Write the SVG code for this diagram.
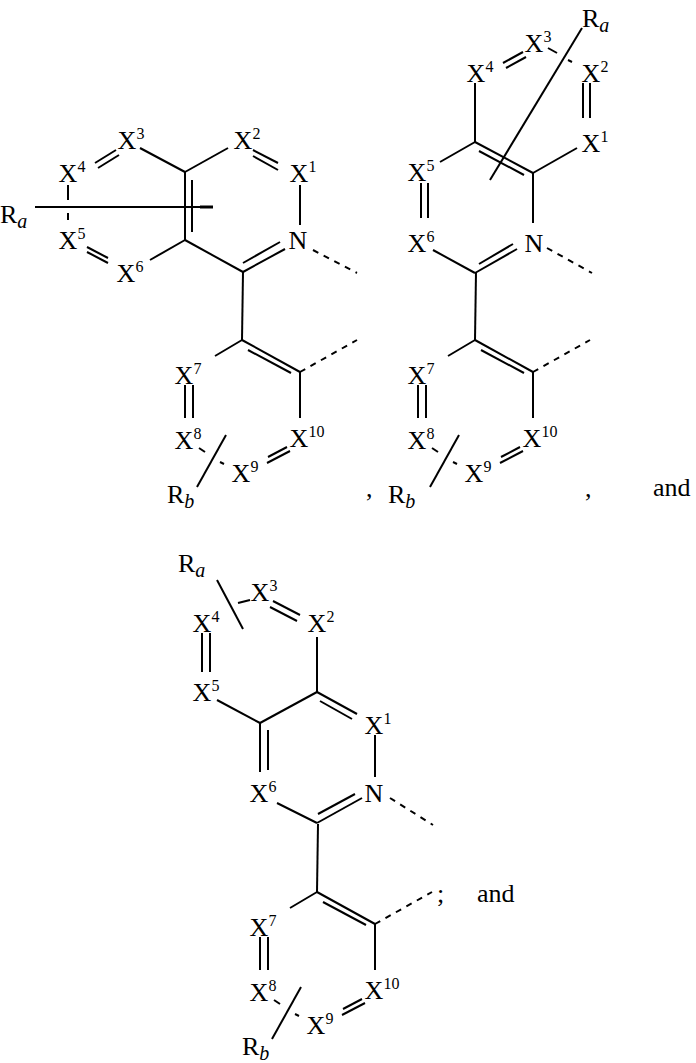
<svg xmlns="http://www.w3.org/2000/svg" width="696" height="1063" viewBox="0 0 696 1063" font-family="'Liberation Serif', 'Times New Roman', serif" font-size="26">
<style>
line{stroke:#000;stroke-width:2;fill:none}
.d{stroke-dasharray:6 6}
</style>
<rect width="696" height="1063" fill="#fff"/>
<defs>
<g id="lowerBonds">
<line x1="243" y1="272" x2="242" y2="340"/>
<line x1="242" y1="340" x2="300" y2="372"/>
<line x1="248" y1="350" x2="291" y2="373"/>
<line x1="242" y1="340" x2="215" y2="356"/>
<line x1="185" y1="385" x2="185" y2="418"/>
<line x1="193" y1="385" x2="193" y2="418"/>
<line x1="300" y1="372" x2="300" y2="418"/>
<line x1="267" y1="463" x2="290" y2="451"/>
<line x1="268" y1="457" x2="287" y2="447"/>
<line x1="199" y1="448" x2="205" y2="452"/>
<line x1="220" y1="462" x2="224" y2="464"/>
<line x1="226" y1="435" x2="197" y2="487"/>
<line class="d" x1="300" y1="372" x2="357" y2="340"/>
</g>
<g id="lowerLabels" font-family="'Liberation Serif', 'Times New Roman', serif" font-size="26">
<text x="174.6" y="383.5">X<tspan font-size="16" dy="-10">7</tspan></text>
<text x="174.6" y="448.5">X<tspan font-size="16" dy="-10">8</tspan></text>
<text x="289.6" y="446.5">X<tspan font-size="16" dy="-10">10</tspan></text>
<text x="231.6" y="481.5">X<tspan font-size="16" dy="-10">9</tspan></text>
</g>
</defs>
<g id="connectors">
<line x1="95" y1="163" x2="116" y2="150"/>
<line x1="98" y1="168" x2="119" y2="155"/>
<line x1="140" y1="148" x2="185" y2="172"/>
<line x1="185" y1="172" x2="228" y2="148"/>
<line x1="253" y1="150" x2="278" y2="163"/>
<line x1="253" y1="156" x2="278" y2="170"/>
<line x1="300" y1="185" x2="300" y2="225"/>
<line x1="243" y1="272" x2="285" y2="249"/>
<line x1="243" y1="263" x2="280" y2="242"/>
<line x1="243" y1="272" x2="185" y2="240"/>
<line x1="185" y1="240" x2="185" y2="172"/>
<line x1="192" y1="232" x2="192" y2="180"/>
<line x1="185" y1="240" x2="150" y2="260"/>
<line x1="87" y1="247" x2="108" y2="258"/>
<line x1="87" y1="252" x2="108" y2="263"/>
<line x1="68" y1="185" x2="68" y2="200"/>
<line x1="68" y1="213" x2="68" y2="220"/>
<line x1="35" y1="207" x2="213" y2="207"/>
<line x1="200" y1="207" x2="213" y2="207" style="stroke-width:3"/>
<line class="d" x1="313" y1="250" x2="357" y2="273"/>
<use href="#lowerBonds"/>
<line x1="475" y1="83" x2="475" y2="142"/>
<line x1="503" y1="63" x2="523" y2="52"/>
<line x1="506" y1="68" x2="526" y2="57"/>
<line x1="548" y1="48" x2="557" y2="53"/>
<line x1="568" y1="60" x2="572" y2="62"/>
<line x1="583" y1="83" x2="583" y2="118"/>
<line x1="590" y1="83" x2="590" y2="118"/>
<line x1="577" y1="148" x2="533" y2="173"/>
<line x1="475" y1="142" x2="533" y2="173"/>
<line x1="479" y1="151" x2="524" y2="175"/>
<line x1="533" y1="173" x2="533" y2="223"/>
<line x1="475" y1="142" x2="440" y2="162"/>
<line x1="421" y1="183" x2="421" y2="218"/>
<line x1="428" y1="183" x2="428" y2="218"/>
<line x1="433" y1="250" x2="475" y2="273"/>
<line x1="475" y1="273" x2="517" y2="249"/>
<line x1="479" y1="264" x2="513" y2="244"/>
<line class="d" x1="547" y1="248" x2="592" y2="273"/>
<line x1="582" y1="28" x2="490" y2="180"/>
<use href="#lowerBonds" transform="translate(233,0)"/>
<line x1="217" y1="580" x2="243" y2="629"/>
<line x1="238" y1="603" x2="250" y2="600"/>
<line x1="273" y1="601" x2="300" y2="615"/>
<line x1="270" y1="607" x2="297" y2="621"/>
<line x1="317" y1="637" x2="317" y2="692"/>
<line x1="202" y1="633" x2="202" y2="672"/>
<line x1="210" y1="633" x2="210" y2="672"/>
<line x1="217" y1="700" x2="260" y2="723"/>
<line x1="260" y1="723" x2="317" y2="692"/>
<line x1="317" y1="692" x2="357" y2="714"/>
<line x1="320" y1="701" x2="352" y2="719"/>
<line x1="375" y1="735" x2="375" y2="777"/>
<line x1="260" y1="723" x2="260" y2="772"/>
<line x1="268" y1="730" x2="268" y2="770"/>
<line x1="277" y1="803" x2="317" y2="823"/>
<line x1="317" y1="823" x2="362" y2="798"/>
<line x1="318" y1="814" x2="355" y2="794"/>
<line class="d" x1="390" y1="798" x2="433" y2="825"/>
<use href="#lowerBonds" transform="translate(75,552)"/>
</g>
<g id="structure1">
<text x="117.6" y="148.5">X<tspan font-size="16" dy="-10">3</tspan></text>
<text x="233.6" y="148.5">X<tspan font-size="16" dy="-10">2</tspan></text>
<text x="58.6" y="181.5">X<tspan font-size="16" dy="-10">4</tspan></text>
<text x="289.6" y="181.5">X<tspan font-size="16" dy="-10">1</tspan></text>
<text x="58.6" y="248.5">X<tspan font-size="16" dy="-10">5</tspan></text>
<text x="116.6" y="281.5">X<tspan font-size="16" dy="-10">6</tspan></text>
<text x="288.6" y="248.5">N</text>
<text x="0" y="223">R<tspan font-size="20" font-style="italic" dy="5">a</tspan></text>
<use href="#lowerLabels"/>
<text x="167" y="503">R<tspan font-size="20" font-style="italic" dy="5">b</tspan></text>
<text x="366" y="497">,</text>
</g>
<g id="structure2">
<text x="582" y="27">R<tspan font-size="20" font-style="italic" dy="5">a</tspan></text>
<text x="524.6" y="51.5">X<tspan font-size="16" dy="-10">3</tspan></text>
<text x="466.6" y="81.5">X<tspan font-size="16" dy="-10">4</tspan></text>
<text x="581.6" y="81.5">X<tspan font-size="16" dy="-10">2</tspan></text>
<text x="581.6" y="151.5">X<tspan font-size="16" dy="-10">1</tspan></text>
<text x="407.6" y="180.5">X<tspan font-size="16" dy="-10">5</tspan></text>
<text x="407.6" y="251.5">X<tspan font-size="16" dy="-10">6</tspan></text>
<text x="524.6" y="251.5">N</text>
<use href="#lowerLabels" transform="translate(233,0)"/>
<text x="388" y="503">R<tspan font-size="20" font-style="italic" dy="5">b</tspan></text>
<text x="585" y="497">,</text>
<text x="653" y="496">and</text>
</g>
<g id="structure3">
<text x="178" y="572">R<tspan font-size="20" font-style="italic" dy="5">a</tspan></text>
<text x="250.6" y="600.5">X<tspan font-size="16" dy="-10">3</tspan></text>
<text x="192.6" y="631.5">X<tspan font-size="16" dy="-10">4</tspan></text>
<text x="307.6" y="631.5">X<tspan font-size="16" dy="-10">2</tspan></text>
<text x="192.6" y="700.5">X<tspan font-size="16" dy="-10">5</tspan></text>
<text x="364.6" y="733.5">X<tspan font-size="16" dy="-10">1</tspan></text>
<text x="249.6" y="801.5">X<tspan font-size="16" dy="-10">6</tspan></text>
<text x="364.6" y="801.5">N</text>
<use href="#lowerLabels" transform="translate(75,552)"/>
<text x="242" y="1055">R<tspan font-size="20" font-style="italic" dy="5">b</tspan></text>
<text x="437" y="902">;</text>
<text x="477" y="902">and</text>
</g>
</svg>
